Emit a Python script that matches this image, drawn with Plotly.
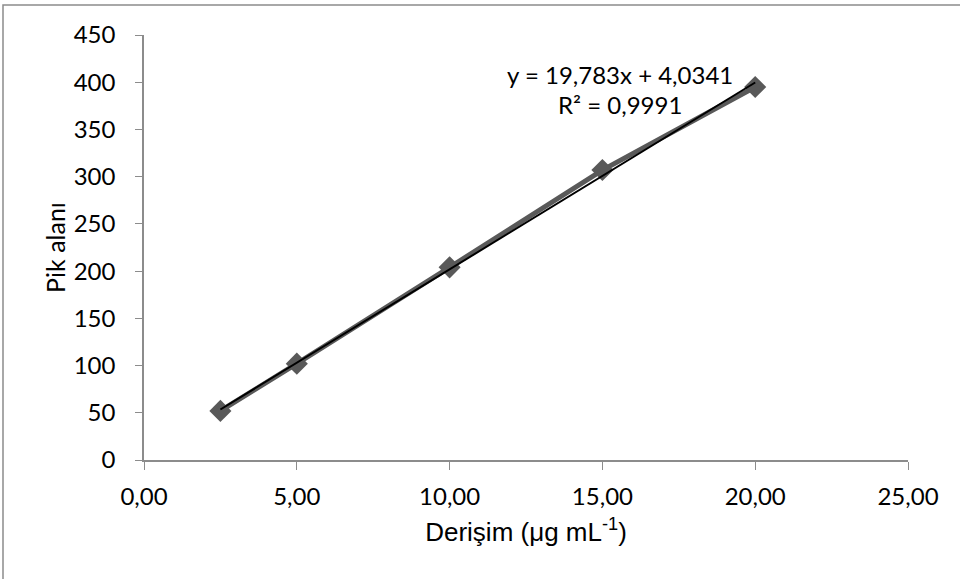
import plotly.graph_objects as go

# Data
concentration = [2.5, 5, 10, 15, 20]
peak_area = [52, 102, 204, 307, 395]
slope = 19.783
intercept = 4.0341
x_ticks = [0, 5, 10, 15, 20, 25]
x_tick_labels = ["0,00", "5,00", "10,00", "15,00", "20,00", "25,00"]
y_ticks = [0, 50, 100, 150, 200, 250, 300, 350, 400, 450]

trend_x = [concentration[0], concentration[-1]]
trend_y = [slope * v + intercept for v in trend_x]

FONT = "Lato, Open Sans, sans-serif"
ARIAL = "Liberation Sans, Arial, sans-serif"

fig = go.Figure()
fig.add_trace(go.Scatter(
    x=concentration, y=peak_area, mode="lines+markers",
    line=dict(color="#595959", width=5),
    marker=dict(symbol="diamond", size=17, color="#595959"),
    showlegend=False, cliponaxis=False,
))
fig.add_trace(go.Scatter(
    x=trend_x, y=trend_y, mode="lines",
    line=dict(color="#000000", width=2),
    showlegend=False,
))

L, R, T, B = 144, 52, 35, 119
W, H = 960, 579
pw, ph = W - L - R, H - T - B

def px2x(p):
    return (p - L) / pw

def py2y(p):
    return (H - B - p) / ph

fig.add_shape(type="rect", xref="paper", yref="paper",
              x0=px2x(3), x1=px2x(990), y0=py2y(620), y1=py2y(5),
              line=dict(color="#8c8c8c", width=1.5), layer="below")

fig.add_annotation(xref="paper", yref="paper", x=px2x(620), y=py2y(74),
                   xanchor="center", yanchor="middle",
                   text="y = 19,783x + 4,0341", showarrow=False,
                   font=dict(family=FONT, size=24, color="#000"))
fig.add_annotation(xref="paper", yref="paper", x=px2x(620), y=py2y(105),
                   xanchor="center", yanchor="middle",
                   text="R² = 0,9991", showarrow=False,
                   font=dict(family=FONT, size=24, color="#000"))

fig.update_layout(
    width=W, height=H,
    margin=dict(l=L, r=R, t=T, b=B),
    paper_bgcolor="white", plot_bgcolor="white",
    font=dict(family=FONT, size=24, color="#000"),
    xaxis=dict(range=[0, 25], tickvals=x_ticks, ticktext=x_tick_labels,
               showgrid=False, zeroline=False, showline=True,
               linecolor="#8c8c8c", linewidth=1.5, ticks="outside",
               ticklen=8, tickcolor="#8c8c8c", ticklabelstandoff=6,
               tickfont=dict(size=24),
               title=dict(text="Derişim (μg mL<sup>-1</sup>)",
                          font=dict(family=ARIAL, size=26), standoff=14)),
    yaxis=dict(range=[0, 450], tickvals=y_ticks,
               showgrid=False, zeroline=False, showline=True,
               linecolor="#8c8c8c", linewidth=1.5, ticks="outside",
               ticklen=7, tickcolor="#8c8c8c", ticklabelstandoff=15,
               tickfont=dict(size=24),
               title=dict(text="Pik alanı", font=dict(family=FONT, size=25),
                          standoff=1)),
)

fig.write_html("out.html", config={"displayModeBar": False},
               post_script="document.body.style.margin='0';")
